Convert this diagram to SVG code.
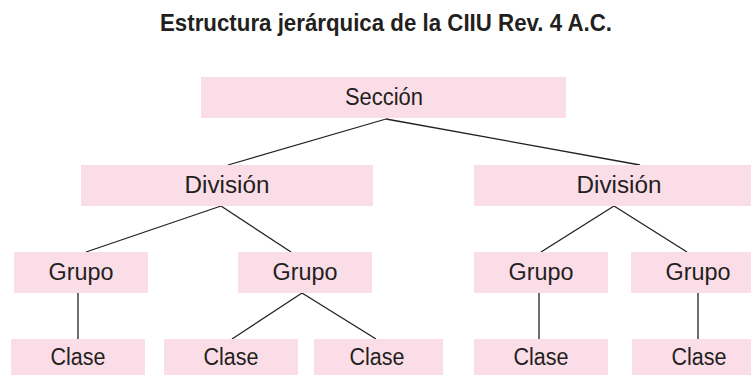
<svg xmlns="http://www.w3.org/2000/svg" width="751" height="375" viewBox="0 0 751 375">
<style>
.box{fill:#fbdde8;stroke:none}
.lbl{font-family:"Liberation Sans",Arial,sans-serif;font-size:23px;fill:#231f20;text-anchor:middle}
.title{font-family:"Liberation Sans",Arial,sans-serif;font-size:23px;font-weight:bold;fill:#231f20;text-anchor:middle}
.conn line{stroke:#231f20;stroke-width:1.3;fill:none}
</style>
<rect width="751" height="375" fill="#ffffff"/>
<text class="title" x="386" y="31" textLength="452" lengthAdjust="spacingAndGlyphs">Estructura jerárquica de la CIIU Rev. 4 A.C.</text>
<g id="connectors" class="conn">
<line x1="386" y1="119" x2="228" y2="165"/>
<line x1="386" y1="119" x2="640" y2="165"/>
<line x1="221" y1="206" x2="86" y2="252"/>
<line x1="221" y1="206" x2="291" y2="252"/>
<line x1="614" y1="206" x2="541" y2="252"/>
<line x1="614" y1="206" x2="687" y2="252"/>
<line x1="78" y1="293" x2="78" y2="339"/>
<line x1="302" y1="293" x2="232" y2="339"/>
<line x1="302" y1="293" x2="376" y2="339"/>
<line x1="539" y1="293" x2="539" y2="339"/>
<line x1="698" y1="293" x2="698" y2="339"/>
</g>
<g id="seccion"><rect class="box" x="201" y="77" width="365" height="41"/><text class="lbl" x="384" y="105" textLength="78" lengthAdjust="spacingAndGlyphs">Sección</text></g>
<g id="division1"><rect class="box" x="81" y="165" width="292" height="41"/><text class="lbl" x="227" y="193" textLength="85" lengthAdjust="spacingAndGlyphs">División</text></g>
<g id="division2"><rect class="box" x="474" y="165" width="290" height="41"/><text class="lbl" x="619" y="193" textLength="85" lengthAdjust="spacingAndGlyphs">División</text></g>
<g id="grupo1"><rect class="box" x="14" y="252" width="134" height="41"/><text class="lbl" x="81" y="279.5" textLength="65" lengthAdjust="spacingAndGlyphs">Grupo</text></g>
<g id="grupo2"><rect class="box" x="238" y="252" width="134" height="41"/><text class="lbl" x="305" y="279.5" textLength="65" lengthAdjust="spacingAndGlyphs">Grupo</text></g>
<g id="grupo3"><rect class="box" x="474" y="252" width="134" height="41"/><text class="lbl" x="541" y="279.5" textLength="65" lengthAdjust="spacingAndGlyphs">Grupo</text></g>
<g id="grupo4"><rect class="box" x="631" y="252" width="134" height="41"/><text class="lbl" x="698" y="279.5" textLength="65" lengthAdjust="spacingAndGlyphs">Grupo</text></g>
<g id="clase1"><rect class="box" x="11" y="339" width="134" height="36"/><text class="lbl" x="78" y="365" textLength="55" lengthAdjust="spacingAndGlyphs">Clase</text></g>
<g id="clase2"><rect class="box" x="164" y="339" width="134" height="36"/><text class="lbl" x="231" y="365" textLength="55" lengthAdjust="spacingAndGlyphs">Clase</text></g>
<g id="clase3"><rect class="box" x="314" y="339" width="129" height="36"/><text class="lbl" x="377" y="365" textLength="55" lengthAdjust="spacingAndGlyphs">Clase</text></g>
<g id="clase4"><rect class="box" x="474" y="339" width="134" height="36"/><text class="lbl" x="541" y="365" textLength="55" lengthAdjust="spacingAndGlyphs">Clase</text></g>
<g id="clase5"><rect class="box" x="632" y="339" width="134" height="36"/><text class="lbl" x="699" y="365" textLength="55" lengthAdjust="spacingAndGlyphs">Clase</text></g>
</svg>
